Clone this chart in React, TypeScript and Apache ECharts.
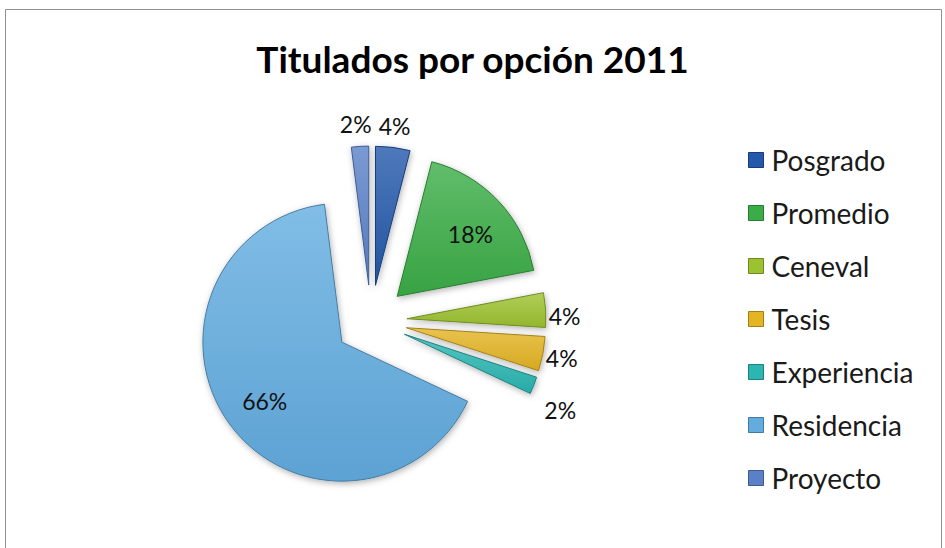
import React, { useEffect, useRef } from "react";
import * as echarts from "echarts";

const titleText = "Titulados por opción 2011";
const categories = ["Posgrado", "Promedio", "Ceneval", "Tesis", "Experiencia", "Residencia", "Proyecto"];
const values = [4, 18, 4, 4, 2, 66, 2];
const colors = ["#2358aa", "#3aad46", "#9cc22f", "#e4b423", "#2bb6b2", "#62ace0", "#5a81c8"];
const insideLabel = [false, true, false, false, false, true, false];

function shade(hex: string, f: number): string {
  const n = parseInt(hex.slice(1), 16);
  let r = (n >> 16) & 255, g = (n >> 8) & 255, b = n & 255;
  if (f >= 0) {
    r = Math.round(r + (255 - r) * f);
    g = Math.round(g + (255 - g) * f);
    b = Math.round(b + (255 - b) * f);
  } else {
    r = Math.round(r * (1 + f));
    g = Math.round(g * (1 + f));
    b = Math.round(b * (1 + f));
  }
  return "rgb(" + r + "," + g + "," + b + ")";
}

const FONT = "Lato, 'Open Sans', sans-serif";
const RADIUS = 139;
// label nudges (style only), per slice index
const labelNudge: Record<number, [number, number]> = {
  0: [-20, -15],
  1: [0, 6],
  2: [-8, 6],
  3: [-8, 3],
  4: [0, 22],
  5: [4, 0],
  6: [17, -16],
};

export default function App() {
  const ref = useRef<HTMLDivElement>(null);
  useEffect(() => {
    if (!ref.current) return;
    const chart = echarts.init(ref.current, undefined, { renderer: "svg" });
    const total = values.reduce((a, b) => a + b, 0);
    const mids: number[] = [];
    let cum = 0;
    values.forEach((v) => {
      mids.push(((cum + v / 2) / total) * Math.PI * 2);
      cum += v;
    });
    const data = categories.map((name, i) => {
      const c = colors[i];
      const fill = new echarts.graphic.LinearGradient(0, 0, 0, 1, [
        { offset: 0, color: shade(c, 0.2) },
        { offset: 1, color: shade(c, -0.06) },
      ]);
      const itemStyle = {
        color: fill,
        borderColor: shade(c, -0.28),
        borderWidth: 1,
        shadowBlur: 6,
        shadowColor: "rgba(0,0,0,0.3)",
        shadowOffsetX: 1,
        shadowOffsetY: 2,
      };
      return {
        name,
        value: values[i],
        selected: true,
        itemStyle,
        select: { itemStyle },
        label: {
          position: insideLabel[i] ? "inside" : "outside",
        },
      };
    });
    chart.setOption({
      animation: false,
      backgroundColor: "#ffffff",
      title: {
        text: titleText,
        left: "center",
        top: 35,
        textStyle: { fontFamily: FONT, fontSize: 37, fontWeight: "bold", color: "#000", lineHeight: 37 },
      },
      color: colors,
      legend: {
        orient: "vertical",
        left: 748,
        top: 146,
        padding: 0,
        itemWidth: 15,
        itemHeight: 15,
        itemGap: 25,
        icon: "rect",
        selectedMode: false,
        data: categories.map((name, i) => ({
          name,
          itemStyle: { color: colors[i], borderColor: shade(colors[i], -0.3), borderWidth: 1 },
        })),
        textStyle: { fontFamily: FONT, fontSize: 28, color: "#1a1a1a", lineHeight: 28, padding: [0, 0, 0, 3] },
      },
      graphic: [
        {
          type: "rect",
          shape: { x: 5.5, y: 9.5, width: 936, height: 600 },
          style: { fill: "none", stroke: "#8f8f8f", lineWidth: 1 },
          silent: true,
        },
      ],
      series: [
        {
          type: "pie",
          center: [371, 321],
          radius: RADIUS,
          startAngle: 90,
          clockwise: true,
          selectedMode: "multiple",
          selectedOffset: 36,
          avoidLabelOverlap: false,
          emphasis: { disabled: true },
          label: {
            show: true,
            formatter: "{d}%",
            fontFamily: FONT,
            fontSize: 23,
            color: "#111",
          },
          labelLine: { show: false, length: 6, length2: 0 },
          labelLayout: (p: any) => {
            const i = p.dataIndex;
            const n = labelNudge[i] || [0, 0];
            if (insideLabel[i]) {
              const k = 0.2 * RADIUS;
              return { dx: k * Math.sin(mids[i]) + n[0], dy: -k * Math.cos(mids[i]) + n[1] };
            }
            return { dx: n[0], dy: n[1] };
          },
          data,
        },
      ],
    });
    return () => chart.dispose();
  }, []);
  return (
    <div
      ref={ref}
      style={{ position: "absolute", left: 0, top: 0, width: 945, height: 548, background: "#fff" }}
    />
  );
}
